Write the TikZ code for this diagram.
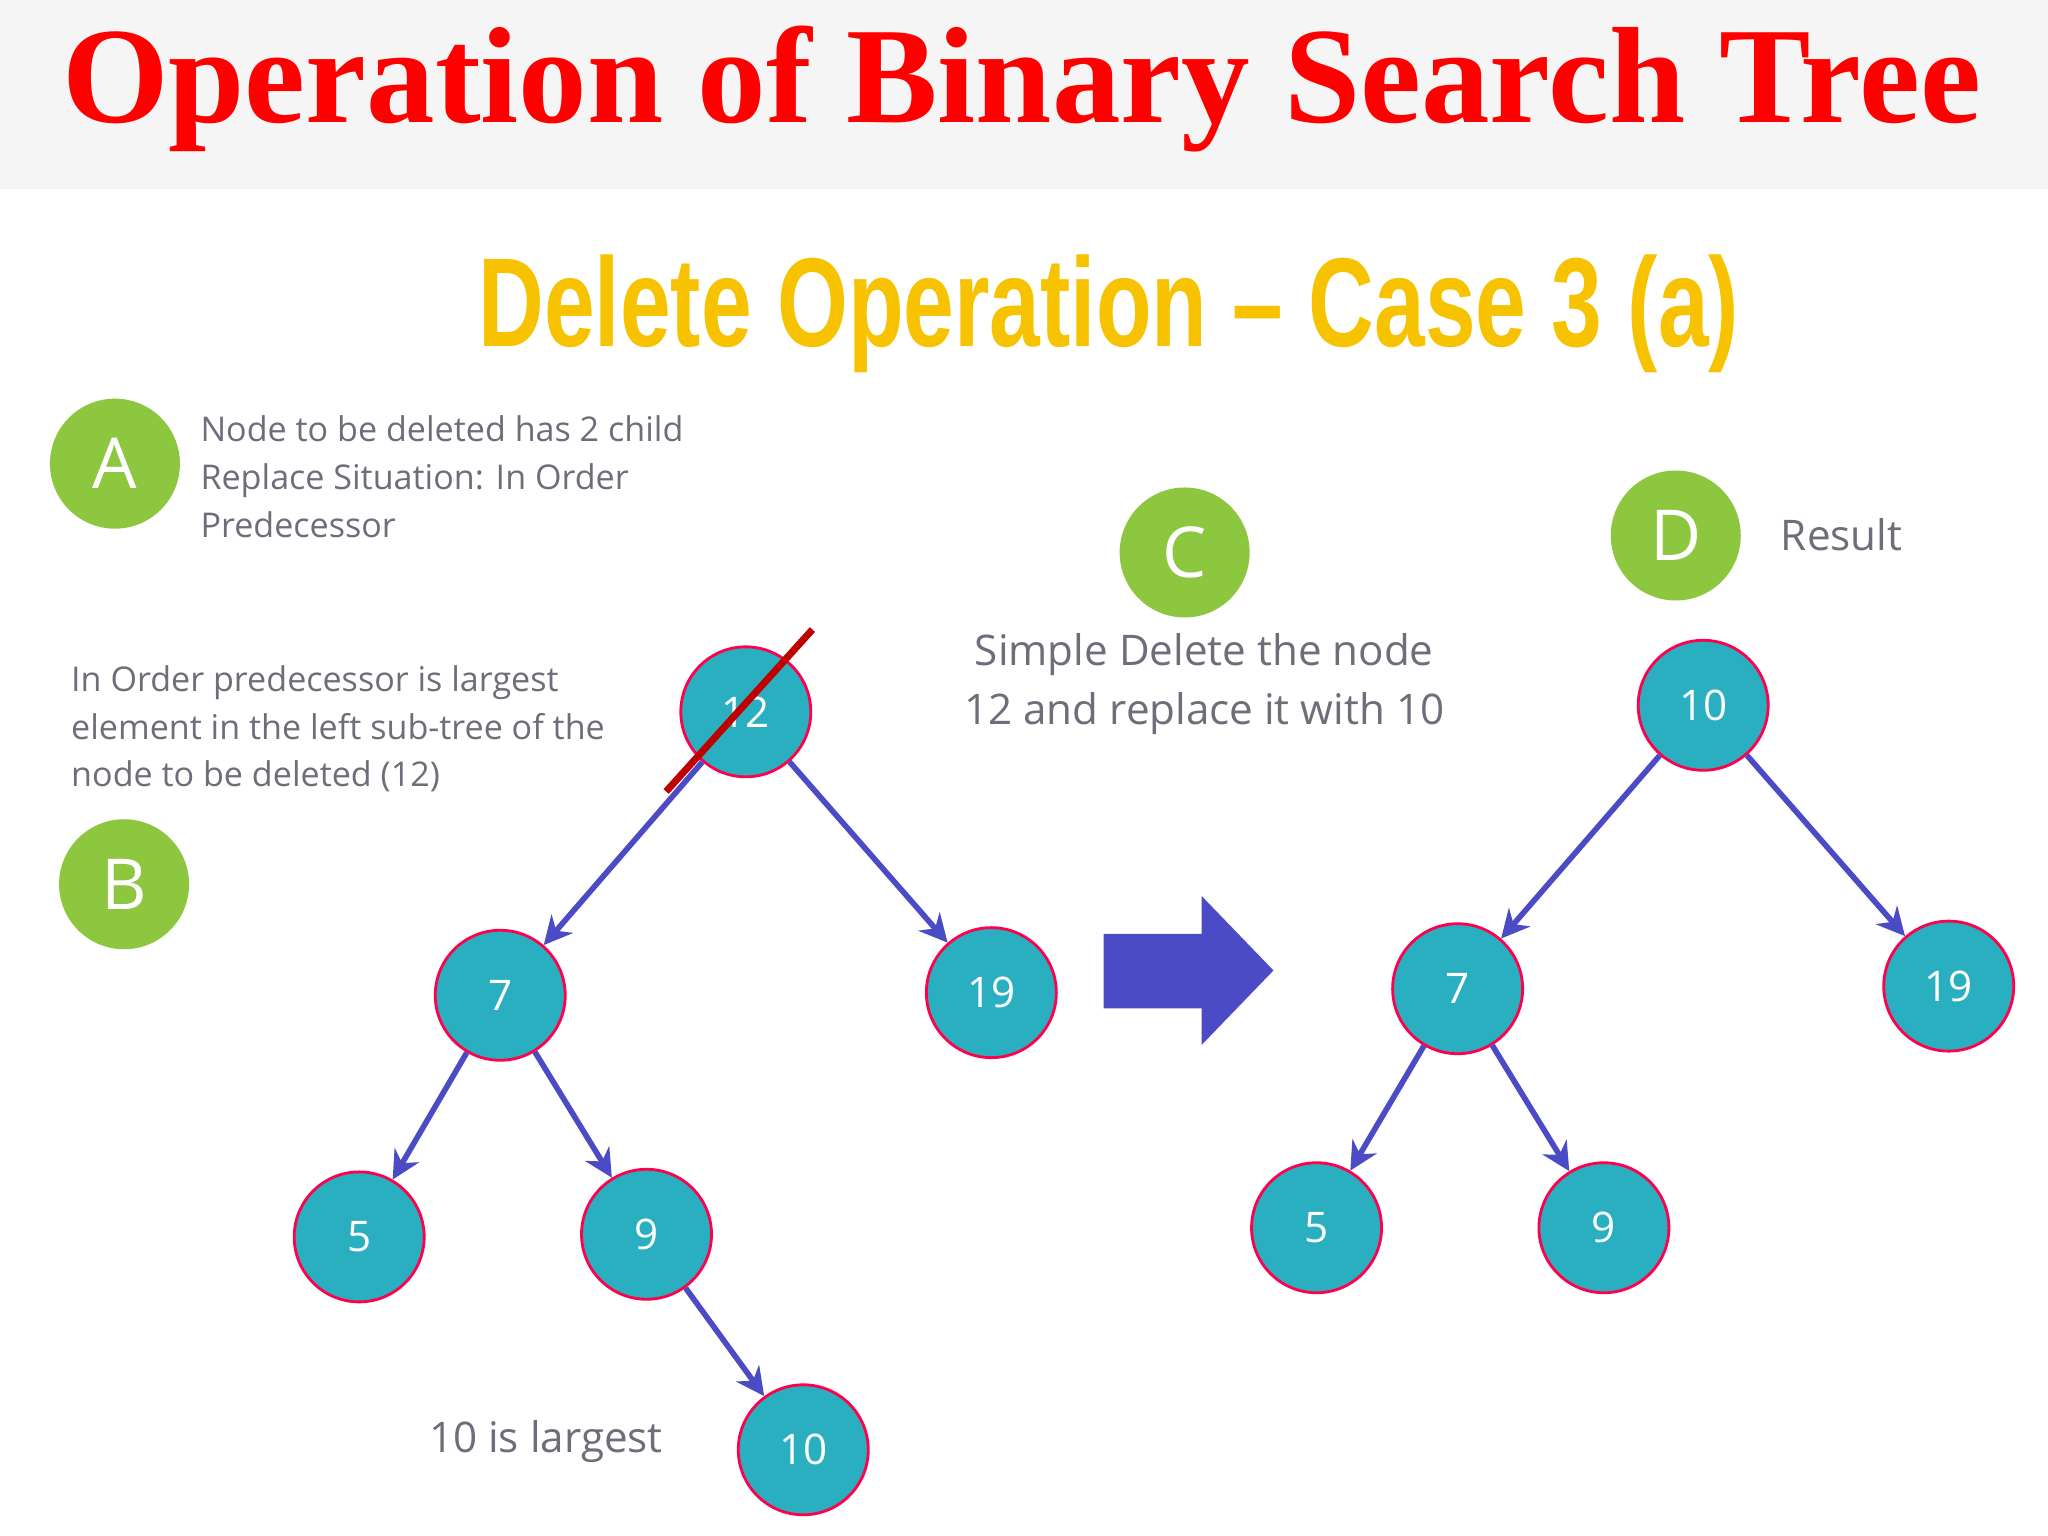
\documentclass[tikz,border=0pt]{standalone}
\usepackage{fontspec}
\setmainfont{Open Sans}
\newfontfamily\titlefont{Liberation Serif}
\newfontfamily\subfont{Liberation Sans}
\usetikzlibrary{arrows.meta}
\definecolor{gr}{HTML}{8DC63F}
\definecolor{teal}{HTML}{2AAFC0}
\definecolor{bl}{HTML}{4B4BC6}
\definecolor{txt}{HTML}{6E6E7A}
\definecolor{yel}{HTML}{F7C200}
\tikzset{
 letter/.style={circle,fill=gr,minimum size=1.3cm,inner sep=0pt,text=white,font=\fontsize{20}{24}\selectfont},
 tn/.style={circle,fill=teal,draw=red!70!magenta,line width=0.8pt,minimum size=1.3cm,inner sep=0pt,text=white,font=\fontsize{12}{14}\selectfont},
 ed/.style={draw=bl,line width=1.6pt,-{Stealth[length=8pt,width=8pt]}},
 info/.style={text=txt,align=left,font=\fontsize{9.7}{13.6}\selectfont,anchor=west,inner sep=0pt}
}
\begin{document}
\begin{tikzpicture}[x=0.013061cm,y=-0.013061cm]
\useasboundingbox (0,0) rectangle (1568,1176);
\fill[white] (0,0) rectangle (1568,1176);
\fill[gray!8] (0,0) rectangle (1568,145);
\node (title) at (782,68) {\titlefont\bfseries\color{red}\fontsize{39}{44}\selectfont Operation of Binary Search Tree};
\node[xscale=0.72] (sub) at (849,240) {\subfont\bfseries\color{yel}\fontsize{36}{40}\selectfont Delete Operation – Case 3 (a)};
\node[letter] (A) at (88,355) {A};
\node[letter] (B) at (95,677) {B};
\node[letter] (C) at (907,423) {C};
\node[letter] (D) at (1283,410) {D};
\node[info] (tA) at (153,365) {Node to be deleted has 2 child\\Replace Situation: In Order\\Predecessor};
\node[info] (tB) at (54,558) {In Order predecessor is largest\\element in the left sub-tree of the\\node to be deleted (12)};
\node[text=txt,align=center,font=\fontsize{12}{16.8}\selectfont] (tC) at (922,524) {Simple Delete the node\\12 and replace it with 10};
\node[text=txt,font=\fontsize{12}{16}\selectfont] (tD) at (1410,409) {Result};
\node[text=txt,font=\fontsize{12}{16}\selectfont] (tL) at (418,1104) {10 is largest};
% left tree
\node[tn] (n12) at (571,545) {12};
\node[tn] (n7) at (383,762) {7};
\node[tn] (n19) at (759,760) {19};
\node[tn] (n5) at (275,947) {5};
\node[tn] (n9) at (495,945) {9};
\node[tn] (n10) at (615,1110) {10};
\draw[ed] (n12) -- (n7);
\draw[ed] (n12) -- (n19);
\draw[ed] (n7) -- (n5);
\draw[ed] (n7) -- (n9);
\draw[ed] (n9) -- (n10);
\coordinate (x1) at (622,482);
\coordinate (x2) at (510,606);
\draw[red!75!black,line width=2pt] (x1) -- (x2);
% arrow
\fill[bl] (845,715) -- (920,715) -- (920,686) -- (975,743) -- (920,800) -- (920,772) -- (845,772) -- cycle;
% right tree
\node[tn] (m10) at (1304,540) {10};
\node[tn] (m7) at (1116,757) {7};
\node[tn] (m19) at (1492,755) {19};
\node[tn] (m5) at (1008,940) {5};
\node[tn] (m9) at (1228,940) {9};
\draw[ed] (m10) -- (m7);
\draw[ed] (m10) -- (m19);
\draw[ed] (m7) -- (m5);
\draw[ed] (m7) -- (m9);
\end{tikzpicture}
\end{document}
